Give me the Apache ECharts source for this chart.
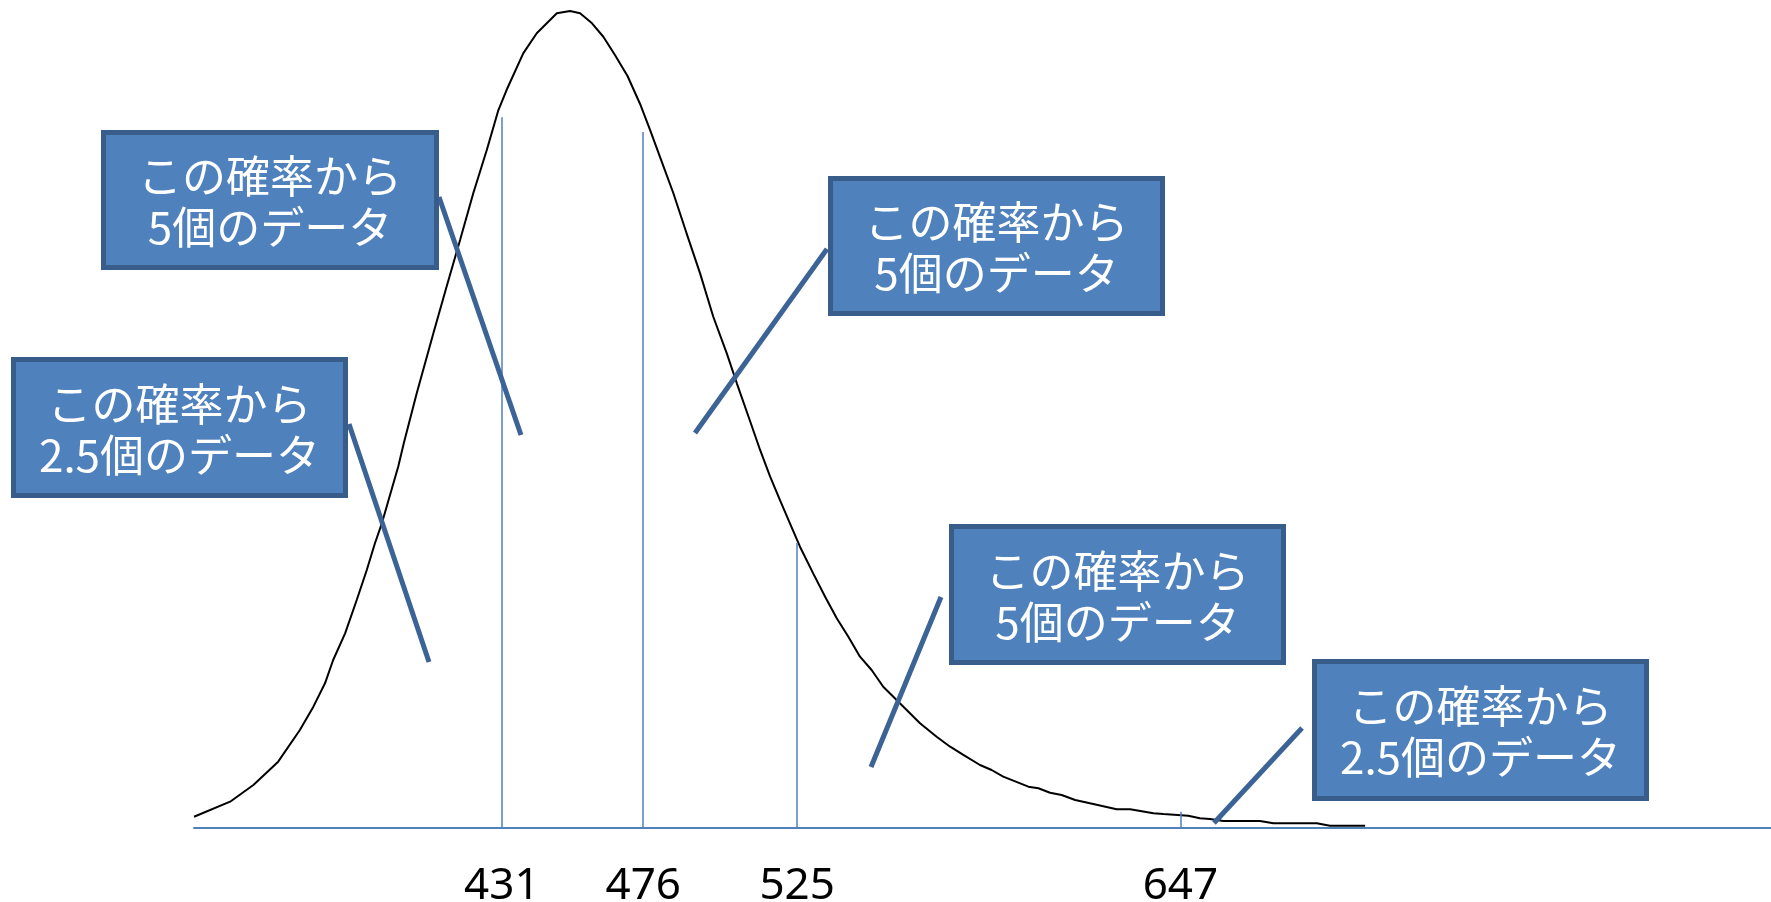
<!DOCTYPE html>
<html>
<head>
<meta charset="utf-8">
<script src="https://cdn.jsdelivr.net/npm/echarts@6/dist/echarts.min.js"></script>
<style>
  html, body { margin: 0; padding: 0; background: #ffffff; }
  #chart { width: 1771px; height: 902px; }
</style>
</head>
<body>
<div id="chart"></div>
<script>
// Distribution curve (x: score, y: relative density, peak = 100)
const curveX = [333.0, 344.5, 351.9, 359.8, 366.7, 371.0, 374.7, 377.3, 381.1, 384.8,
  388.0, 390.6, 392.8, 395.4, 398.0, 399.8, 403.9, 409.2, 413.4, 417.7,
  421.9, 426.2, 429.9, 432.5, 437.8, 442.1, 448.5, 452.7, 455.9, 459.7,
  463.3, 467.0, 471.0, 475.0, 478.2, 481.3, 485.6, 489.8, 494.1, 498.3,
  502.6, 505.8, 510.0, 513.2, 516.4, 519.5, 522.7, 525.9, 530.1, 533.9,
  537.6, 541.3, 545.0, 548.7, 552.4, 557.7, 564.1, 569.4, 573.7, 577.9,
  583.2, 586.9, 590.6, 598.6, 601.8, 605.5, 609.2, 613.5, 618.2, 626.7,
  631.0, 638.4, 641.6, 649.5, 653.2, 656.4, 660.7, 672.3, 676.6, 690.4,
  694.6, 705.8];
const curveY = [1.38, 3.22, 5.26, 8.12, 12.0, 14.85, 17.71, 20.56, 23.83, 27.91,
  31.58, 34.85, 37.29, 40.76, 44.22, 47.12, 53.21, 60.55, 66.26, 71.97,
  77.69, 82.99, 87.88, 90.33, 94.82, 97.27, 99.72, 100.0, 99.72, 98.49,
  96.85, 94.61, 92.04, 88.62, 85.43, 82.17, 77.69, 72.79, 67.89, 62.58,
  58.10, 54.43, 49.82, 46.27, 43.00, 40.15, 37.29, 34.43, 31.17, 28.31,
  25.67, 23.41, 20.97, 19.34, 17.29, 15.26, 12.82, 11.17, 9.95, 8.94,
  7.71, 7.10, 6.28, 5.06, 4.86, 4.32, 4.04, 3.43, 3.02, 2.29,
  2.29, 1.80, 1.71, 1.51, 1.19, 1.10, 0.86, 0.86, 0.58, 0.58,
  0.28, 0.28];

// Cut points shown on the axis and the curve height at each of them
const cutValues = [431, 476, 525, 647];
const cutHeights = [87.0, 85.2, 34.9, 2.0];

// Callout texts
const calloutTexts = [
  'この確率から\n5個のデータ',
  'この確率から\n2.5個のデータ',
  'この確率から\n5個のデータ',
  'この確率から\n5個のデータ',
  'この確率から\n2.5個のデータ'
];

// Callout layout: box [x, y, w, h] and pointer [x1, y1, x2, y2] in pixels
const calloutBoxes = [
  [101, 130, 338, 140],
  [11, 357, 337, 141],
  [828, 176, 337, 140],
  [949, 524, 337, 141],
  [1312, 659, 337, 142]
];
const calloutPointers = [
  [439, 197, 521, 435],
  [349, 424, 429, 662],
  [827, 249, 695, 433],
  [941, 597, 871, 767],
  [1302, 728, 1214, 823]
];

const BOX_FILL = '#4F81BD';
const BOX_EDGE = '#385D8A';
const POINTER = '#3C6395';
const CJK_FONT = '"Noto Sans CJK JP", "Noto Sans CJK SC", sans-serif';

const chart = echarts.init(document.getElementById('chart'), null, { renderer: 'canvas' });

const graphics = [];
calloutPointers.forEach(function (p) {
  graphics.push({
    type: 'line',
    z: 10,
    shape: { x1: p[0], y1: p[1], x2: p[2], y2: p[3] },
    style: { stroke: POINTER, lineWidth: 5, lineCap: 'butt' },
    silent: true
  });
});
calloutBoxes.forEach(function (b, i) {
  graphics.push({
    type: 'rect',
    z: 11,
    shape: { x: b[0] + 2.5, y: b[1] + 2.5, width: b[2] - 5, height: b[3] - 5 },
    style: { fill: BOX_FILL, stroke: BOX_EDGE, lineWidth: 5 },
    silent: true
  });
  graphics.push({
    type: 'text',
    z: 12,
    x: b[0] + b[2] / 2,
    y: b[1] + b[3] / 2 + 2,
    style: {
      text: calloutTexts[i],
      align: 'center',
      verticalAlign: 'middle',
      fontSize: 44,
      lineHeight: 51,
      fontFamily: CJK_FONT,
      fill: '#ffffff'
    },
    silent: true
  });
});

chart.setOption({
  animation: false,
  backgroundColor: '#ffffff',
  grid: {
    left: 194, right: 0, top: 11, bottom: 74,
    containLabel: false,
    outerBoundsMode: 'none'
  },
  xAxis: {
    type: 'value',
    min: 333,
    max: 835,
    axisLine: { show: true, onZero: false, lineStyle: { color: '#4F81BD', width: 2 } },
    axisTick: { show: false },
    splitLine: { show: false },
    axisLabel: {
      customValues: cutValues,
      formatter: function (v) { return String(v); },
      margin: 58,
      verticalAlign: 'middle',
      fontSize: 44,
      fontFamily: '"Noto Sans", "Open Sans", sans-serif',
      color: '#000000'
    }
  },
  yAxis: {
    type: 'value',
    min: 0,
    max: 100,
    show: false,
    splitLine: { show: false }
  },
  series: [{
    type: 'line',
    data: curveX.map(function (x, i) { return [x, curveY[i]]; }),
    showSymbol: false,
    symbol: 'none',
    clip: false,
    smooth: false,
    lineStyle: { color: '#000000', width: 2 },
    silent: true,
    z: 3,
    markLine: {
      silent: true,
      symbol: ['none', 'none'],
      label: { show: false },
      lineStyle: { color: '#4F81BD', width: 1.5, type: 'solid' },
      data: cutValues.map(function (v, i) {
        return [{ coord: [v, 0] }, { coord: [v, cutHeights[i]] }];
      })
    }
  }],
  graphic: graphics
});
</script>
</body>
</html>
